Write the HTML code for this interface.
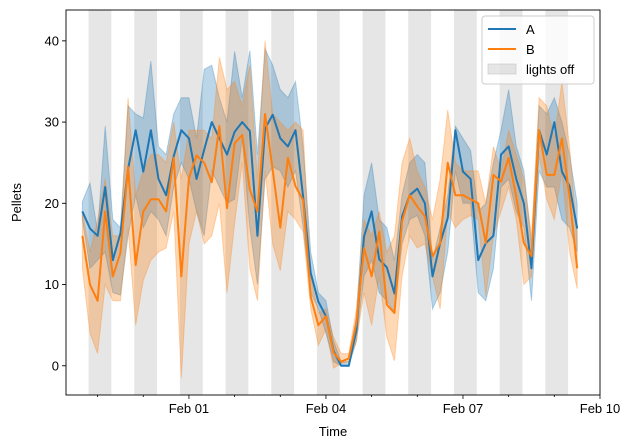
<!DOCTYPE html>
<html><head><meta charset="utf-8"><style>
body{margin:0;background:#fff;}
svg{display:block;font-family:"Liberation Sans","DejaVu Sans",sans-serif;}
</style></head><body>
<svg id="chart" width="632" height="448"></svg>
<script>
const startHour = -56;
const stepHours = 4;
const aMean=[19,16.9,16,22,13,16.3,24.2,29,23.9,29,23,21,25.8,29,28,23,26.6,30,28,26,28.8,30,28.9,16,29.2,30.9,28,27,29,20.8,11.4,7.9,6.1,1.8,0,0,4.4,15.9,19,13.1,12.1,8.9,18.4,21,21.8,20,11,15.1,18.2,29,23.9,23,13,15.1,16,26,27,23,20,12,29,26,30,23.9,22.1,16.9];
const aHi=[20.2,22.5,16.5,29.5,18,17,32,31,30.5,37.5,27,26,31,33,33,28,36.5,37,33,30,38.7,33,38.8,26,39,37,34,33,35,27,14,9,8,3,0.5,0.5,6,21,25,18,17,13,21,25,26,25,13,17,21,29.5,28,26.5,19,20,25,29,34,27,24,15,32,31,33,30,26,20];
const aLo=[18,12,13,14,9,8.7,16,21,17,19,18,16,22,25,23,19,16,24,22,20,20.5,28,17,10,23,24.5,24,22,24,17,9,7,4,0.5,0,0,3,11,13,9,8,6.5,15,18,18.5,16,7,9,14,24,20,20,9,8,12,22,23,19,17,8,24,22,22,18,17,14];
const bMean=[16,10,8,19,11,13.9,24.5,12.4,19,20.5,20.5,19,25.6,11,23.1,25.9,25,22.6,29.5,19.4,27.4,28.4,21.7,19,31,24.1,17,25.6,22.1,20.4,8.5,5,6.1,1.6,0.5,0.9,5.3,14.5,11,16.5,7.5,6.5,17.8,21,19.6,18.4,13.5,15.1,25,21,21,20.5,20,15.1,23.5,22.7,25.6,20.8,15.1,13.5,29,23.5,23.5,28,20.8,12];
const bHi=[19,14,18,23,16,16,33,21,24,26,26,25,30,23,29,29,29,28,38,34,35,32,37,23,40,31,30,29,30,29,11,6.5,7,3.5,1.5,1.5,7,18,16,19,14,16,25,28,24,22,18,23,31.5,25,24,24,24,20,27,24,29,26,23,16,33,32,28,35,27,16];
const bLo=[12,4,1.5,10,8,8,17,5,10.5,13,14,14.5,19,-1.5,15,19,15,16,20,9,17.5,25,12,8,24,15,11.7,19,18,16.5,7,2.5,4.5,-0.3,0.3,0.5,3,9,5,11,3.5,0.6,11,16,14.5,15,11,7,19,17,18,18.5,18,8.5,16,19,22,18,10,11,26,20.5,18,24,14,9.5];
const yTicks=[0,10,20,30,40];
const xMajorDays=[0,3,6,9];
const xMajorLabels=["Feb 01","Feb 04","Feb 07","Feb 10"];
const lightsOffStartHours=[-52.75,-28.75,-4.75,19.25,43.25,67.25,91.25,115.25,139.25,163.25,187.25];
const lightsOffDuration=12;

const L=66,R=600,T=10,B=395;
const xMin=-64.6,xMax=216,yMin=-3.6,yMax=43.8;
const X=h=>L+(h-xMin)/(xMax-xMin)*(R-L);
const Y=v=>B-(v-yMin)/(yMax-yMin)*(B-T);
const svg=document.getElementById('chart');
const NS='http://www.w3.org/2000/svg';
function mk(tag,attrs,parent){const e=document.createElementNS(NS,tag);for(const k in attrs)e.setAttribute(k,attrs[k]);(parent||svg).appendChild(e);return e;}
const times=aMean.map((_,i)=>startHour+i*stepHours);

const bands=mk('g',{});


lightsOffStartHours.forEach(s=>{
  const r=mk('rect',{x:X(s),y:T,width:X(s+lightsOffDuration)-X(s),height:B-T,fill:'#808080','fill-opacity':0.2},bands);
  
  
});
function area(lo,hi,color,name){
  let d='M'+times.map((t,i)=>X(t)+','+Y(hi[i])).join('L');
  d+='L'+times.map((t,i)=>[t,i]).reverse().map(([t,i])=>X(t)+','+Y(lo[i])).join('L')+'Z';
  const p=mk('path',{d,fill:color,'fill-opacity':0.3,stroke:color,'stroke-opacity':0.3,'stroke-width':1});
  
  
}
function line(m,color,name){
  const p=mk('path',{d:'M'+times.map((t,i)=>X(t)+','+Y(m[i])).join('L'),fill:'none',stroke:color,'stroke-width':2,'stroke-linejoin':'round'});
  
  
}
area(aLo,aHi,'#1f77b4','series-a-ci');
area(bLo,bHi,'#ff7f0e','series-b-ci');
line(aMean,'#1f77b4','series-a-line');
line(bMean,'#ff7f0e','series-b-line');

const frame=mk('rect',{x:L,y:T,width:R-L,height:B-T,fill:'none',stroke:'#000','stroke-width':0.9});



yTicks.forEach(v=>{
  mk('line',{x1:L-4,x2:L,y1:Y(v),y2:Y(v),stroke:'#000','stroke-width':0.9});
  const t=mk('text',{x:L-7,y:Y(v)+4.5,'text-anchor':'end','font-size':13});
  t.textContent=v;
  
  
});
for(let d=-2;d<=9;d++){
  const h=d*24;if(X(h)<L)continue;
  const major=xMajorDays.includes(d);
  mk('line',{x1:X(h),x2:X(h),y1:B,y2:B+(major?4:2),stroke:'#000','stroke-width':0.8});
}
xMajorDays.forEach((d,i)=>{
  const t=mk('text',{x:X(d*24),y:B+18,'text-anchor':'middle','font-size':13});
  t.textContent=xMajorLabels[i];
  
  
});
const xt=mk('text',{x:(L+R)/2,y:436,'text-anchor':'middle','font-size':13});
xt.textContent='Time';


const yt=mk('text',{x:21,y:(T+B)/2,'text-anchor':'middle','font-size':13,transform:'rotate(-90 21 '+((T+B)/2)+')'});
yt.textContent='Pellets';



const lg=mk('g',{});


mk('rect',{x:482,y:16,width:112,height:68,rx:3,fill:'#fff','fill-opacity':0.8,stroke:'#ccc'},lg);
[['A','#1f77b4',29],['B','#ff7f0e',49]].forEach(([n,c,y])=>{
  mk('line',{x1:488,x2:516,y1:y,y2:y,stroke:c,'stroke-width':2},lg);
  const t=mk('text',{x:526,y:y+5,'font-size':13},lg);
  t.textContent=n;
  
  
});
mk('rect',{x:488,y:64,width:28,height:10,fill:'#808080','fill-opacity':0.2,stroke:'#bbb','stroke-opacity':0.5},lg);
const lt=mk('text',{x:526,y:74,'font-size':13},lg);
lt.textContent='lights off';


</script>
</body></html>
